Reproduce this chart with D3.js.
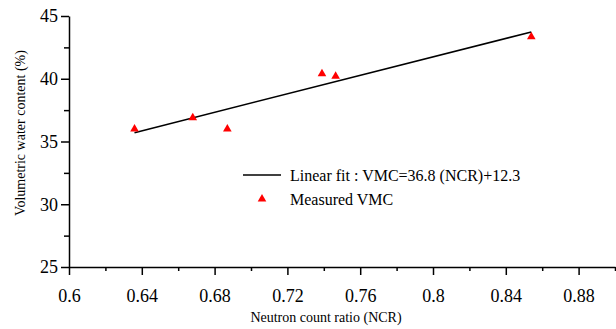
<!DOCTYPE html>
<html>
<head>
<meta charset="utf-8">
<script src="https://cdn.jsdelivr.net/npm/d3@7"></script>
<style>
  body { margin: 0; background: #fff; }
  svg { display: block; }
  svg text { font-family: "Liberation Serif", "Times New Roman", serif; fill: #000; }
</style>
</head>
<body>
<div id="chart"></div>
<script>
// measured points
const ncr = [0.636, 0.668, 0.687, 0.739, 0.7465, 0.854];
const vmc = [36.0, 36.9, 36.0, 40.4, 40.2, 43.35];

const fitSlope = 36.8;
const fitIntercept = 12.3;

const xTickLabels = [0.6, 0.64, 0.68, 0.72, 0.76, 0.8, 0.84, 0.88];
const yTickLabels = [25, 30, 35, 40, 45];

const width = 616, height = 329;
const margin = {top: 16, right: 1, bottom: 62, left: 69};

const svg = d3.select('#chart').append('svg')
    .attr('width', width)
    .attr('height', height);

const x = d3.scaleLinear()
    .domain([0.6, 0.9])
    .range([margin.left, width - margin.right]);

const y = d3.scaleLinear()
    .domain([25, 45])
    .range([height - margin.bottom, margin.top]);

// minor ticks first, then the labelled ones
const xMinor = d3.range(0.62, 0.9, 0.04);
const yMinor = d3.range(27.5, 45, 5);

svg.append('g')
    .attr('transform', `translate(0,${y(25)})`)
    .call(d3.axisBottom(x).tickValues(xMinor).tickSize(4).tickFormat(''))
    .call(g => g.select('.domain').remove())
    .call(g => g.selectAll('line').attr('stroke-width', 1.5));

svg.append('g')
    .attr('transform', `translate(${x(0.6)},0)`)
    .call(d3.axisLeft(y).tickValues(yMinor).tickSize(5).tickFormat(''))
    .call(g => g.select('.domain').remove())
    .call(g => g.selectAll('line').attr('stroke-width', 1.5));

const xAxis = svg.append('g')
    .attr('transform', `translate(0,${y(25)})`)
    .call(d3.axisBottom(x).tickValues(xTickLabels).tickSize(8).tickSizeOuter(0).tickPadding(14)
        .tickFormat(d => String(+d.toFixed(2))));

const yAxis = svg.append('g')
    .attr('transform', `translate(${x(0.6)},0)`)
    .call(d3.axisLeft(y).tickValues(yTickLabels).tickSize(8).tickSizeOuter(0).tickPadding(3));

[xAxis, yAxis].forEach(g => {
    g.attr('font-family', null).attr('font-size', null);
    g.select('.domain').attr('stroke-width', 1.5);
    g.selectAll('line').attr('stroke-width', 1.5);
    g.selectAll('text')
        .attr('fill', '#000')
        .style('font-family', 'Liberation Serif')
        .style('font-size', '18px');
});

svg.append('text')
    .attr('x', 326)
    .attr('y', 322)
    .attr('text-anchor', 'middle')
    .style('font-size', '14px')
    .text('Neutron count ratio (NCR)');

svg.append('text')
    .attr('transform', 'translate(25,133) rotate(-90)')
    .attr('text-anchor', 'middle')
    .style('font-size', '14px')
    .text('Volumetric water content (%)');

// linear fit across the measured range
const [xmin, xmax] = d3.extent(ncr);
svg.append('line')
    .attr('x1', x(xmin))
    .attr('y1', y(fitSlope * xmin + fitIntercept))
    .attr('x2', x(xmax))
    .attr('y2', y(fitSlope * xmax + fitIntercept))
    .attr('stroke', '#000')
    .attr('stroke-width', 1.5);

const tri = d3.symbol().type(d3.symbolTriangle).size(32);

svg.append('g')
    .selectAll('path')
    .data(ncr.map((v, i) => [v, vmc[i]]))
    .join('path')
    .attr('d', tri)
    .attr('transform', d => `translate(${x(d[0])},${y(d[1])})`)
    .attr('fill', '#ff0000');

// legend
const legend = svg.append('g').attr('transform', 'translate(243,175)');
legend.append('line')
    .attr('x1', 0).attr('x2', 38)
    .attr('stroke', '#000').attr('stroke-width', 1.5);
legend.append('text')
    .attr('x', 47).attr('y', 6)
    .style('font-size', '16px')
    .text(`Linear fit : VMC=${fitSlope} (NCR)+${fitIntercept}`);
legend.append('path')
    .attr('d', tri)
    .attr('transform', 'translate(19,24)')
    .attr('fill', '#ff0000');
legend.append('text')
    .attr('x', 47).attr('y', 30)
    .style('font-size', '16px')
    .text('Measured VMC');
</script>
</body>
</html>
